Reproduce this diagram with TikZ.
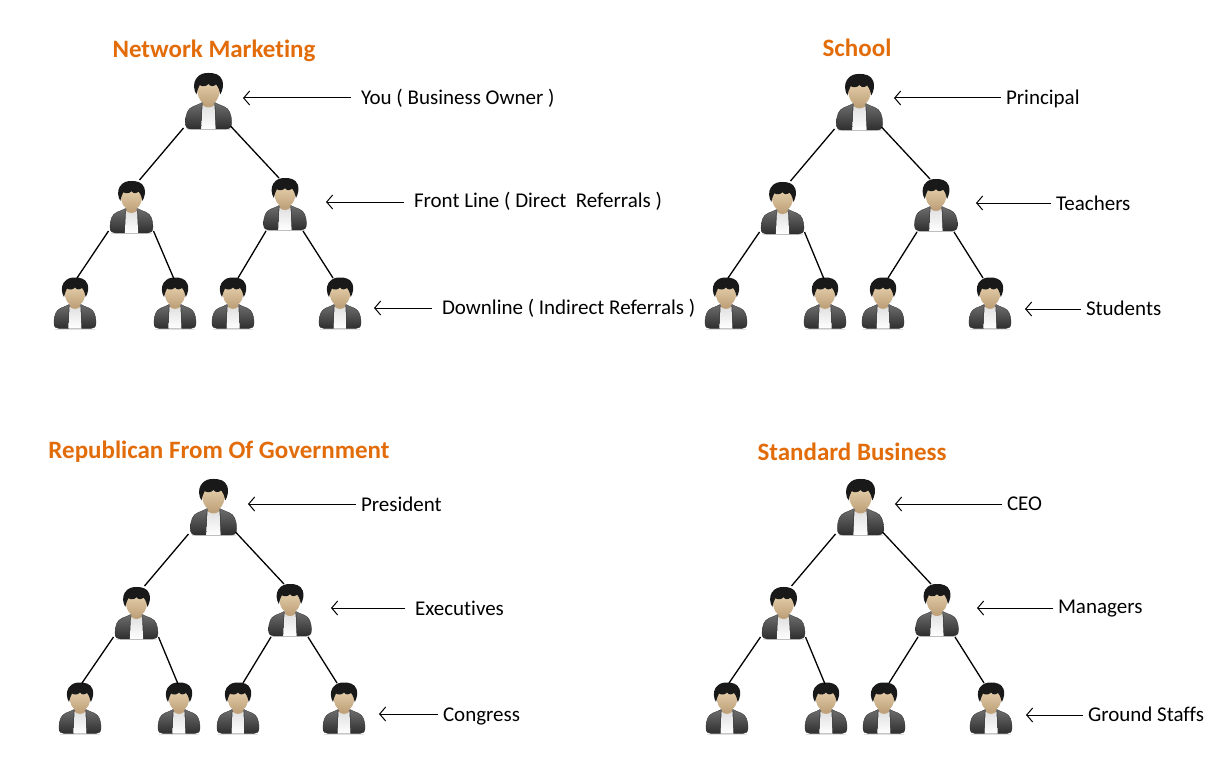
\documentclass[tikz,border=0pt]{standalone}
\usepackage{fontspec}
\setmainfont{Carlito}[Ligatures=NoCommon]
\usetikzlibrary{arrows.meta,calc}
\definecolor{ttl}{HTML}{E36C0A}
\definecolor{jacktop}{HTML}{6E6E6E}
\definecolor{jackbot}{HTML}{2E2E2E}
\definecolor{facetop}{HTML}{E8D3B0}
\definecolor{facebot}{HTML}{BFA27A}
\tikzset{
  x=1pt,y=-1pt,
  ttlnode/.style={font=\fontsize{25}{27}\selectfont\bfseries,text=ttl,inner sep=0pt,anchor=base},
  lab/.style={font=\fontsize{21}{24}\selectfont,text=black,inner sep=0pt,anchor=west,outer sep=10pt},
  link/.style={draw=black,line width=1.3pt},
  arr/.style={draw=black,line width=1pt,-{Straight Barb[length=6pt,width=14pt,line width=1pt]}},
  anchorbox/.style={inner sep=0pt,minimum width=42pt,minimum height=51pt}
}
% \person{name}{x}{y}{scale}
\newcommand{\person}[4]{%
  \node[anchorbox,scale=#4] (#1) at (#2,#3) {};
  \begin{scope}[shift={(#2,#3)},scale=#4]
    % soft shadow
    \fill[black!12] (-20,25.6) rectangle (20,26.4);
    % jacket
    \path[top color=jacktop,bottom color=jackbot,draw=jackbot,line width=.3pt]
      (-21,20) .. controls (-21,12) and (-19,7) .. (-14,5)
      .. controls (-10,3.5) and (-8,2.5) .. (-6,1.5) -- (6,1.5)
      .. controls (8,2.5) and (10,3.5) .. (14,5)
      .. controls (19,7) and (21,12) .. (21,20)
      .. controls (21,24) and (19,25.5) .. (16,25.5) -- (-16,25.5)
      .. controls (-19,25.5) and (-21,24) .. (-21,20) -- cycle;
    % shirt
    \path[top color=black!12,bottom color=white]
      (-5.5,4) -- (5.5,4) -- (6.5,25.5) -- (-6.5,25.5) -- cycle;
    % lapels
    \draw[black!75,line width=.5pt] (-6,3.5) -- (-7,25) (6,3.5) -- (7,25);
    % neck
    \fill[facebot] (-5,-2) -- (5,-2) -- (5,4) .. controls (2,6.5) and (-2,6.5) .. (-5,4) -- cycle;
    % face
    \path[top color=facetop,bottom color=facebot]
      (-10.5,-12) .. controls (-10.5,-3) and (-6,3.5) .. (0,3.5)
      .. controls (6,3.5) and (10.5,-3) .. (10.5,-12)
      .. controls (10.5,-20) and (-10.5,-20) .. (-10.5,-12) -- cycle;
    % hair
    \fill[black!90]
      (-11,-6) .. controls (-13.5,-10) and (-14,-16) .. (-11.5,-20)
      .. controls (-8,-25) and (-4,-25.5) .. (0,-25.5)
      .. controls (5,-25.5) and (10.5,-24.5) .. (12.5,-19)
      .. controls (14,-15) and (13,-10) .. (10.8,-6)
      .. controls (10,-9) and (9.5,-12) .. (7,-15)
      .. controls (4,-13) and (2,-13) .. (0,-15.5)
      .. controls (-2,-13) and (-6,-13) .. (-8,-14.5)
      .. controls (-9.5,-12) and (-10.2,-9) .. (-11,-6) -- cycle;
  \end{scope}
}
% \links{prefix}
\newcommand{\links}[1]{%
  \draw[link] ($(#1t)+(-25,27)$) -- ($(#1a)+(8,-27)$);
  \draw[link] ($(#1t)+(22,25)$) -- ($(#1b)+(-6,-26)$);
  \draw[link] ($(#1a)+(-23,24)$) -- ($(#1c)+(2,-25)$);
  \draw[link] ($(#1a)+(22,24)$) -- ($(#1d)+(-1,-24)$);
  \draw[link] ($(#1b)+(-19,27)$) -- ($(#1e)+(5,-25)$);
  \draw[link] ($(#1b)+(18,27)$) -- ($(#1f)+(-7,-25)$);
}
\begin{document}
\begin{tikzpicture}
\useasboundingbox (0,0) rectangle (1227,776);
\fill[white] (0,0) rectangle (1227,776);

% titles
\node[ttlnode] (t1) at (214,58) {Network Marketing};
\node[ttlnode] (t2) at (857,57) {School};
\node[ttlnode] (t3) at (219,458) {Republican From Of Government};
\node[ttlnode] (t4) at (852,460) {Standard Business};

% panel 1
\person{pt}{208.5}{101}{1.1}
\person{pa}{131.5}{207}{1.02}
\person{pb}{285}{204}{1.02}
\person{pc}{75}{303}{1}
\person{pd}{175}{303}{1}
\person{pe}{233}{303}{1}
\person{pf}{340}{303}{1}
\links{p}
% panel 2
\person{qt}{859.5}{102}{1.1}
\person{qa}{782.5}{208}{1.02}
\person{qb}{936}{205}{1.02}
\person{qc}{726}{303}{1}
\person{qd}{825}{303}{1}
\person{qe}{883}{303}{1}
\person{qf}{990}{303}{1}
\links{q}
% panel 3
\person{rt}{213.5}{507}{1.1}
\person{ra}{136.5}{613}{1.02}
\person{rb}{290}{610}{1.02}
\person{rc}{80}{708}{1}
\person{rd}{179}{708}{1}
\person{re}{238}{708}{1}
\person{rf}{344}{708}{1}
\links{r}
% panel 4
\person{st}{860.5}{507}{1.1}
\person{sa}{783.5}{613}{1.02}
\person{sb}{937}{610}{1.02}
\person{sc}{727}{708}{1}
\person{sd}{826}{708}{1}
\person{se}{884}{708}{1}
\person{sf}{991}{708}{1}
\links{s}

% labels (outer sep leaves the gap before each arrow's tail)
\node[lab] (l1) at (351,98) {You ( Business Owner )};
\node[lab] (l2) at (404,201) {Front Line ( Direct\ \ Referrals )};
\node[lab] (l3) at (432,308) {Downline ( Indirect Referrals )};
\node[lab,outer sep=5pt] (l4) at (1001,99) {Principal};
\node[lab,outer sep=5pt] (l5) at (1051,203) {Teachers};
\node[lab,outer sep=5pt] (l6) at (1081,308) {Students};
\node[lab,outer sep=5pt] (l7) at (356,504) {President};
\node[lab,outer sep=10pt] (l8) at (405,608) {Executives};
\node[lab,outer sep=5pt] (l9) at (438,716) {Congress};
\node[lab,outer sep=5pt] (l10) at (1002,504) {CEO};
\node[lab,outer sep=5pt] (l11) at (1053,609) {Managers};
\node[lab,outer sep=5pt] (l12) at (1083,714) {Ground Staffs};

\coordinate (e1) at (243,98);
\coordinate (e2) at (326,202);
\coordinate (e3) at (374,308);
\coordinate (e4) at (894,98);
\coordinate (e5) at (976,203);
\coordinate (e6) at (1025,309);
\coordinate (e7) at (248,504);
\coordinate (e8) at (331,608);
\coordinate (e9) at (379,714);
\coordinate (e10) at (895,504);
\coordinate (e11) at (977,608);
\coordinate (e12) at (1026,715);
\foreach \i in {1,...,12} {
  \draw[arr] (l\i.west |- e\i) -- (e\i);
}
\end{tikzpicture}
\end{document}
